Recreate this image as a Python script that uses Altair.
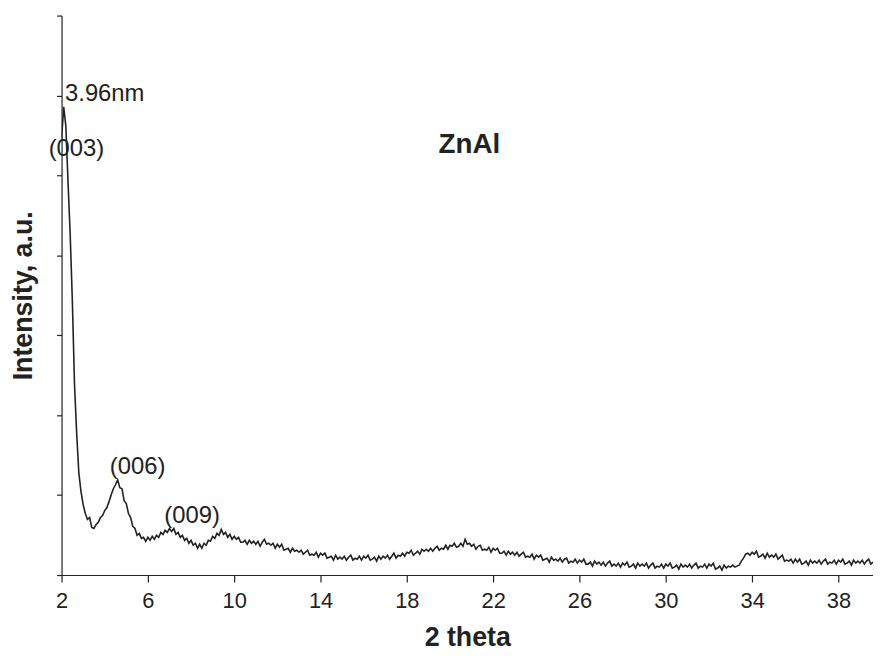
import altair as alt
import pandas as pd

# ---- data (2-theta grid start/step, intensity in a.u.) ----
two_theta_start = 2.0
two_theta_step = 0.1
intensity = [
    440, 472, 452, 396, 343, 276, 192, 143, 103, 84,   # 2.x
    71, 62, 56, 58, 48, 47, 51, 53, 58, 60,            # 3.x
    65, 68, 74, 81, 87, 91, 96, 88, 87, 75,            # 4.x
    72, 62, 58, 49, 47, 40, 42, 37, 38, 34,            # 5.x
    38, 35, 39, 36, 40, 38, 43, 41, 45, 43,            # 6.x
    47, 44, 47, 41, 43, 38, 40, 35, 37, 32,            # 7.x
    35, 30, 32, 27, 31, 27, 32, 30, 35, 34,            # 8.x
    39, 37, 42, 40, 46, 41, 43, 38, 41, 36,            # 9.x
    39, 36, 38, 33, 33, 35, 31, 35, 32, 34,            # 10.x
    31, 34, 29, 33, 36, 31, 32, 30, 32, 27,            # 11.x
    31, 28, 31, 25, 26, 27, 23, 27, 24, 25,            # 12.x
    23, 25, 21, 23, 25, 20, 21, 20, 23, 18,            # 13.x
    22, 20, 22, 17, 18, 19, 15, 20, 16, 18,            # 14.x
    16, 19, 15, 18, 20, 15, 17, 16, 19, 15,            # 15.x
    19, 17, 20, 15, 16, 18, 14, 19, 16, 19,            # 16.x
    17, 20, 16, 19, 22, 17, 20, 19, 22, 19,            # 17.x
    23, 22, 25, 20, 22, 24, 21, 26, 24, 26,            # 18.x
    24, 27, 24, 27, 29, 25, 27, 26, 30, 26,            # 19.x
    30, 29, 32, 28, 29, 32, 29, 36, 31, 32,            # 20.x
    29, 31, 26, 29, 30, 25, 26, 25, 28, 23,            # 21.x
    27, 25, 27, 22, 22, 24, 20, 24, 21, 23,            # 22.x
    20, 23, 19, 21, 23, 18, 19, 18, 21, 16,            # 23.x
    20, 18, 20, 15, 16, 17, 13, 18, 15, 16,            # 24.x
    14, 17, 13, 16, 17, 12, 14, 13, 16, 12,            # 25.x
    15, 13, 16, 11, 11, 13, 9, 14, 11, 13,             # 26.x
    10, 13, 9, 12, 14, 9, 11, 9, 12, 8,                # 27.x
    12, 10, 13, 8, 9, 11, 7, 12, 9, 11,                # 28.x
    9, 12, 7, 10, 12, 7, 9, 8, 11, 7,                  # 29.x
    11, 9, 12, 7, 8, 10, 6, 11, 8, 10,                 # 30.x
    8, 11, 7, 10, 12, 7, 9, 8, 11, 7,                  # 31.x
    11, 9, 12, 6, 7, 9, 5, 10, 7, 9,                   # 32.x
    8, 10, 8, 9, 10, 14, 17, 21, 22, 20,               # 33.x
    23, 21, 24, 18, 19, 21, 17, 22, 18, 20,            # 34.x
    18, 21, 16, 18, 20, 14, 15, 14, 16, 12,            # 35.x
    16, 13, 16, 11, 12, 14, 10, 15, 12, 14,            # 36.x
    12, 15, 11, 14, 16, 11, 13, 12, 15, 11,            # 37.x
    15, 13, 16, 11, 12, 14, 10, 15, 12, 14,            # 38.x
    12, 15, 11, 14, 16, 11, 13,                        # 39.0-39.6
]
two_theta = [round(two_theta_start + two_theta_step * i, 2) for i in range(len(intensity))]

x_ticks = [2, 6, 10, 14, 18, 22, 26, 30, 34, 38]
y_max = 564
y_ticks = [round(i * y_max / 7, 2) for i in range(8)]

peak_labels = ["3.96nm", "(003)", "(006)", "(009)"]
peak_label_x = [4.0, 2.69, 5.52, 8.05]
peak_label_y = [485, 429, 109, 59]

sample_name = ["ZnAl"]
sample_x = [20.9]
sample_y = [433]

df = pd.DataFrame({"two_theta": two_theta, "intensity": intensity})
df_peaks = pd.DataFrame({"label": peak_labels, "x": peak_label_x, "y": peak_label_y})
df_name = pd.DataFrame({"label": sample_name, "x": sample_x, "y": sample_y})

FONT = "Liberation Sans"
INK = "#222222"

x_scale = alt.Scale(domain=[2, 39.6], nice=False, zero=False)
y_scale = alt.Scale(domain=[0, y_max], nice=False, zero=True)

line = alt.Chart(df).mark_line(color=INK, strokeWidth=1.6, clip=True).encode(
    x=alt.X("two_theta:Q", scale=x_scale,
            axis=alt.Axis(values=x_ticks, title="2 theta", labelFontSize=22,
                          tickSize=7, labelPadding=9, titleFontSize=27,
                          titleFontWeight="bold", titlePadding=13,
                          labelFlush=False)),
    y=alt.Y("intensity:Q", scale=y_scale,
            axis=alt.Axis(values=y_ticks, labels=False, title="Intensity, a.u.",
                          tickSize=5, titleFontSize=27, titleFontWeight="bold",
                          titlePadding=19)),
)

peaks = alt.Chart(df_peaks).mark_text(
    font=FONT, fontSize=24, color=INK, align="center", baseline="middle"
).encode(
    x=alt.X("x:Q", scale=x_scale),
    y=alt.Y("y:Q", scale=y_scale),
    text="label:N",
)

name = alt.Chart(df_name).mark_text(
    font=FONT, fontSize=28, fontWeight="bold", color=INK, align="center", baseline="middle"
).encode(
    x=alt.X("x:Q", scale=x_scale),
    y=alt.Y("y:Q", scale=y_scale),
    text="label:N",
)

chart = (
    alt.layer(line, peaks, name)
    .properties(
        width=818,
        height=564,
        autosize=alt.AutoSizeParams(type="none"),
        padding={"left": 54, "top": 5, "right": 0, "bottom": 79},
        background="white",
    )
    .configure_view(stroke=None)
    .configure_axis(
        grid=False,
        domainColor=INK,
        tickColor=INK,
        domainWidth=1.2,
        tickWidth=1.2,
        labelColor=INK,
        titleColor=INK,
        labelFont=FONT,
        titleFont=FONT,
    )
)

chart.save("out.html", embed_options={"renderer": "svg", "actions": False})
